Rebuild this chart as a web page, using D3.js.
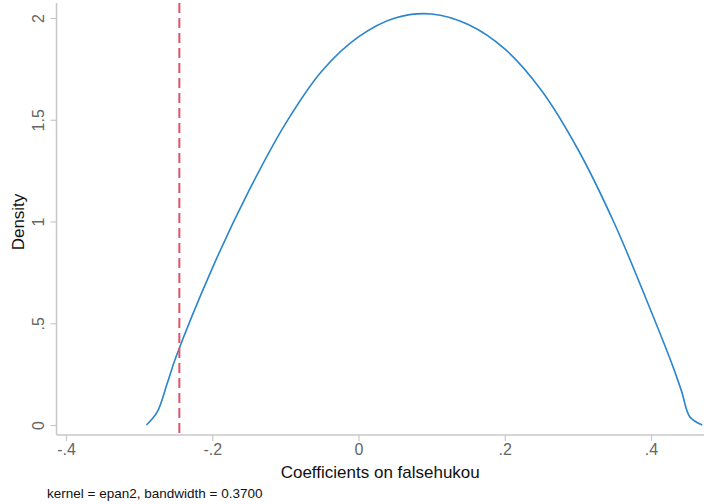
<!DOCTYPE html>
<html>
<head>
<meta charset="utf-8">
<script src="https://cdn.jsdelivr.net/npm/d3@7"></script>
<style>
  body { margin: 0; background: #fff; }
  text { font-family: "Liberation Sans", Arial, sans-serif; }
</style>
</head>
<body>
<svg id="wrapper"></svg>
<script>
// kernel density values
let xVals = [-0.290, -0.275, -0.262, -0.250, -0.200, -0.150, -0.100, -0.050, 0.000, 0.050,
             0.100, 0.150, 0.200, 0.250, 0.300, 0.350, 0.400, 0.430, 0.442, 0.453, 0.470];
let densVals = [0.000, 0.066, 0.200, 0.330, 0.770, 1.150, 1.480, 1.740, 1.907, 2.000,
                2.020, 1.968, 1.848, 1.645, 1.355, 0.990, 0.560, 0.287, 0.164, 0.041, 0.000];
let xTicks = [-0.4, -0.2, 0, 0.2, 0.4];
let xTickLabels = ['-.4', '-.2', '0', '.2', '.4'];
let yTicks = [0, 0.5, 1, 1.5, 2];
let yTickLabels = ['0', '.5', '1', '1.5', '2'];
let refLine = [-0.245];

let width = 704, height = 504;
let plotLeft = 56.5, plotRight = 704, plotTop = 3, plotBottom = 435;

let svg = d3.select('#wrapper')
  .attr('width', width)
  .attr('height', height);

let xScale = d3.scaleLinear()
  .domain([-0.4, 0.4])
  .range([66, 651]);

let yScale = d3.scaleLinear()
  .domain([0, 2])
  .range([425, 18]);

let data = xVals.map(function(x, i) { return {xVal: x, dens: densVals[i]}; });

//axis lines
svg.append('line')
  .attr('x1', plotLeft).attr('x2', plotLeft)
  .attr('y1', plotTop).attr('y2', plotBottom)
  .attr('stroke', '#c8c8c8').attr('stroke-width', 1.5);
svg.append('line')
  .attr('x1', plotLeft).attr('x2', plotRight)
  .attr('y1', plotBottom).attr('y2', plotBottom)
  .attr('stroke', '#c8c8c8').attr('stroke-width', 1.5);

//y ticks
let yAxis = d3.axisLeft(yScale)
  .tickValues(yTicks)
  .tickSize(6)
  .tickFormat(function(d, i) { return yTickLabels[i]; });
let gy = svg.append('g')
  .attr('transform', 'translate(' + plotLeft + ',0)')
  .call(yAxis);
gy.select('.domain').remove();
gy.selectAll('.tick line').attr('stroke', '#c8c8c8').attr('stroke-width', 1.2);
gy.selectAll('.tick text')
  .attr('fill', '#666')
  .attr('font-size', 16)
  .attr('x', 0).attr('dy', 0)
  .attr('text-anchor', 'middle')
  .attr('transform', 'translate(-13,0) rotate(-90)');

//x ticks
let xAxis = d3.axisBottom(xScale)
  .tickValues(xTicks)
  .tickSize(6)
  .tickFormat(function(d, i) { return xTickLabels[i]; });
let gx = svg.append('g')
  .attr('transform', 'translate(0,' + plotBottom + ')')
  .call(xAxis);
gx.select('.domain').remove();
gx.selectAll('.tick line').attr('stroke', '#c8c8c8').attr('stroke-width', 1.2);
gx.selectAll('.tick text')
  .attr('fill', '#666')
  .attr('font-size', 16)
  .attr('y', 9).attr('dy', '0.71em');

//density curve
let line = d3.line()
  .x(function(d) { return xScale(d.xVal); })
  .y(function(d) { return yScale(d.dens); })
  .curve(d3.curveCatmullRom.alpha(0.5));

svg.append('path')
  .datum(data)
  .attr('d', line)
  .attr('fill', 'none')
  .attr('stroke', '#2a85cc')
  .attr('stroke-width', 1.6);

//reference line
svg.selectAll('.ref')
  .data(refLine)
  .enter().append('line')
  .attr('class', 'ref')
  .attr('x1', function(d) { return xScale(d); })
  .attr('x2', function(d) { return xScale(d); })
  .attr('y1', plotTop).attr('y2', plotBottom)
  .attr('stroke', '#e0526a')
  .attr('stroke-width', 2)
  .attr('stroke-dasharray', '10,5');

//titles
svg.append('text')
  .attr('transform', 'translate(24,' + ((plotTop + plotBottom) / 2 + 3) + ') rotate(-90)')
  .attr('text-anchor', 'middle')
  .attr('font-size', 17)
  .attr('fill', '#111')
  .text('Density');

svg.append('text')
  .attr('x', (plotLeft + plotRight) / 2)
  .attr('y', 478)
  .attr('text-anchor', 'middle')
  .attr('font-size', 17)
  .attr('fill', '#111')
  .text('Coefficients on falsehukou');

svg.append('text')
  .attr('x', 47)
  .attr('y', 498)
  .attr('font-size', 13.5)
  .attr('fill', '#111')
  .text('kernel = epan2, bandwidth = 0.3700');
</script>
</body>
</html>
